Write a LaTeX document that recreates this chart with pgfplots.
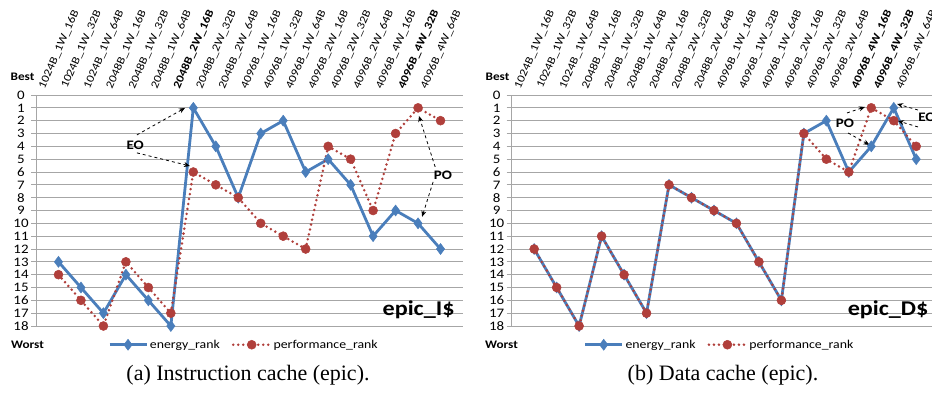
\documentclass[border=0pt]{standalone}
\usepackage{fontspec}
\setmainfont{Carlito}[FakeStretch=1.15]
\newfontfamily\capfont{Liberation Serif}
\usepackage{pgfplots}
\usepackage{pgfplotstable}
\pgfplotsset{compat=1.18}
\usetikzlibrary{arrows.meta}
\definecolor{eblue}{HTML}{4A7EBB}
\definecolor{pred}{HTML}{B03F3B}
\definecolor{gridgray}{HTML}{A6A6A6}

\pgfplotstableread{
x e p
0 13 14
1 15 16
2 17 18
3 14 13
4 16 15
5 18 17
6 1 6
7 4 7
8 8 8
9 3 10
10 2 11
11 6 12
12 5 4
13 7 5
14 11 9
15 9 3
16 10 1
17 12 2
}\tabA

\pgfplotstableread{
x e p
0 12 12
1 15 15
2 18 18
3 11 11
4 14 14
5 17 17
6 7 7
7 8 8
8 9 9
9 10 10
10 13 13
11 16 16
12 3 3
13 2 5
14 6 6
15 4 1
16 1 2
17 5 4
}\tabB

\tikzset{
  annot/.style={font=\fontsize{13}{13}\selectfont\bfseries},
  arr/.style={-{Stealth[length=6pt,width=5pt]}, dashed, line width=0.8pt, black},
}
\pgfplotsset{
  rankaxis/.style={
    scale only axis, width=427pt, height=231pt,
    xmin=-1, xmax=18, ymin=0, ymax=18, y dir=reverse,
    axis x line*=top, axis y line*=left,
    axis line style={gridgray, line width=0.8pt},
    xtick={0,...,17}, ytick={0,...,18},
    ymajorgrids, grid style={gridgray, line width=0.8pt},
    x tick style={draw=none},
    y tick style={gridgray, line width=0.8pt},
    tick align=outside, major tick length=5pt,
    /pgf/number format/assume math mode=true,
    yticklabel style={font=\fontsize{13}{13}\selectfont, anchor=center, xshift=-10pt},
    xticklabel style={font=\fontsize{11.2}{11.2}\selectfont, xshift=-18pt, yshift=-1pt, rotate=66, anchor=west},
    clip=false,
    legend style={draw=none, fill=none, legend columns=2, anchor=west, inner sep=0pt,
      font=\fontsize{12}{12}\selectfont,
      /tikz/every even column/.append style={column sep=10pt}},
    legend image code/.code={\draw[mark repeat=2,mark phase=2,#1] plot coordinates {(0pt,0pt) (18.5pt,0pt) (37pt,0pt)};},
  },
  eplot/.style={eblue, line width=2.8pt, mark=diamond*, mark size=5.5pt, mark options={solid, fill=eblue, draw=eblue, line width=0.5pt}},
  pplot/.style={pred, line width=2.8pt, dash pattern=on 0pt off 5pt, line cap=round, mark=*, mark size=4.5pt, mark options={solid, fill=pred, draw=pred, line width=0.5pt}},
}

\begin{document}
\begin{tikzpicture}
\useasboundingbox (0,0) rectangle (932pt,392pt);

% ---------- panel (a)
\begin{axis}[rankaxis, at={(36pt,66pt)}, anchor=south west,
  xticklabels={1024B\_1W\_16B,1024B\_1W\_32B,1024B\_1W\_64B,2048B\_1W\_16B,2048B\_1W\_32B,2048B\_1W\_64B,\textbf{2048B\_2W\_16B},2048B\_2W\_32B,2048B\_2W\_64B,4096B\_1W\_16B,4096B\_1W\_32B,4096B\_1W\_64B,4096B\_2W\_16B,4096B\_2W\_32B,4096B\_2W\_64B,4096B\_4W\_16B,\textbf{4096B\_4W\_32B},4096B\_4W\_64B},
  legend style={at={(axis cs:2.2,19.46)}}]
\addplot[eplot] table[x=x,y=e] {\tabA};
\addlegendentry{energy\_rank}
\addplot[pplot] table[x=x,y=p] {\tabA};
\addlegendentry{performance\_rank}
\node[annot] at (axis cs:3.41,3.89) {EO};
\draw[arr] (axis cs:3.49,3.11) -- (axis cs:5.63,1.01);
\draw[arr] (axis cs:3.49,4.51) -- (axis cs:5.85,5.53);
\node[annot] at (axis cs:17.11,6.23) {PO};
\draw[arr] (axis cs:16.76,5.6) -- (axis cs:16.04,1.63);
\draw[arr] (axis cs:16.67,6.77) -- (axis cs:16.18,9.49);
\node[anchor=east, font=\fontsize{21}{21}\selectfont\bfseries] at (axis cs:17.78,16.73) {epic\_I\$};
\end{axis}

% ---------- panel (b)
\begin{axis}[rankaxis, at={(511.7pt,66pt)}, anchor=south west,
  xticklabels={1024B\_1W\_16B,1024B\_1W\_32B,1024B\_1W\_64B,2048B\_1W\_16B,2048B\_1W\_32B,2048B\_1W\_64B,2048B\_2W\_16B,2048B\_2W\_32B,2048B\_2W\_64B,4096B\_1W\_16B,4096B\_1W\_32B,4096B\_1W\_64B,4096B\_2W\_16B,4096B\_2W\_32B,4096B\_2W\_64B,\textbf{4096B\_4W\_16B},\textbf{4096B\_4W\_32B},4096B\_4W\_64B},
  legend style={at={(axis cs:2.2,19.46)}}]
\addplot[eplot] table[x=x,y=e] {\tabB};
\addlegendentry{energy\_rank}
\addplot[pplot] table[x=x,y=p] {\tabB};
\addlegendentry{performance\_rank}
\node[annot] at (axis cs:13.83,2.18) {PO};
\draw[arr] (axis cs:13.92,1.40) -- (axis cs:14.72,0.93);
\draw[arr] (axis cs:13.97,2.96) -- (axis cs:14.92,3.89);
\node[annot] at (axis cs:17.48,1.71) {EO};
\draw[arr] (axis cs:17.08,1.17) -- (axis cs:16.15,0.70);
\draw[arr] (axis cs:17.08,2.49) -- (axis cs:16.19,2.02);
\node[anchor=east, font=\fontsize{21}{21}\selectfont\bfseries] at (axis cs:17.7,16.73) {epic\_D\$};
\end{axis}

% ---------- descriptions
\node[font=\fontsize{11.5}{11.5}\selectfont\bfseries] at (22.5pt,315pt) {Best};
\node[font=\fontsize{11.5}{11.5}\selectfont\bfseries] at (27.5pt,47pt) {Worst};
\node[font=\fontsize{11.5}{11.5}\selectfont\bfseries] at (497.5pt,315pt) {Best};
\node[font=\fontsize{11.5}{11.5}\selectfont\bfseries] at (501.5pt,47pt) {Worst};
\node[font=\capfont\fontsize{22}{22}\selectfont] at (248pt,17pt) {(a) Instruction cache (epic).};
\node[font=\capfont\fontsize{22}{22}\selectfont] at (723pt,17pt) {(b) Data cache (epic).};
\end{tikzpicture}
\end{document}
